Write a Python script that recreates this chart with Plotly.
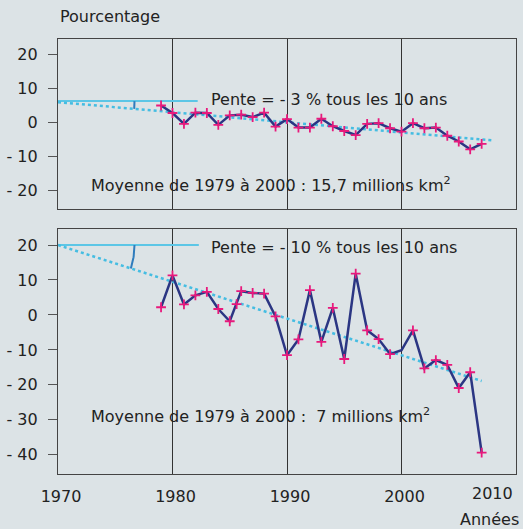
import numpy as np
import plotly.graph_objects as go

# ---------------- data ----------------
years_top = list(range(1979, 2008))
values_top = [4.9, 2.7, -0.5, 2.8, 2.7, -0.8, 2.0, 2.2, 1.5, 2.8,
              -1.3, 0.9, -1.6, -1.6, 1.0, -1.2, -2.6, -3.8, -0.5, -0.3,
              -1.8, -2.8, -0.3, -1.8, -1.6, -4.0, -5.7, -8.0, -6.4]

years_bot = [1979, 1980, 1981, 1982, 1983, 1984, 1985, 1985.6, 1986, 1987,
             1988, 1989, 1990, 1991, 1992, 1993, 1994, 1995, 1996, 1997,
             1998, 1999, 2000, 2001, 2002, 2003, 2004, 2005, 2006, 2007]
values_bot = [2.2, 11.3, 3.0, 5.6, 6.6, 1.7, -1.8, 3.1, 6.8, 6.3,
              6.1, -0.4, -11.5, -7.0, 7.1, -7.7, 2.0, -12.6, 11.8, -4.4,
              -6.9, -11.2, -10.1, -4.4, -15.3, -12.9, -14.3, -20.9, -16.4, -39.4]
no_marker_bot = [2000]

trend_top_x = [1970, 2008]
trend_top_y = [5.9, -5.4]
trend_bot_x = [1970, 2007]
trend_bot_y = [20, -18.9]

ref_top_x = [1970, 1982.2]
ref_top_y = [6.2, 6.2]
ref_bot_x = [1970, 1982.3]
ref_bot_y = [20, 20]

x_ticks = [1970, 1980, 1990, 2000, 2010]
x_labels = ["1970", "1980", "1990", "2000", "2010"]
y_ticks_top = [20, 10, 0, -10, -20]
y_ticks_bot = [20, 10, 0, -10, -20, -30, -40]

def lab(v):
    return "- %d" % (-v) if v < 0 else "%d" % v

# ---------------- style ----------------
BG = "#dce3e6"
NAVY = "#2b3683"
PINK = "#e8197c"
CYAN_DOT = "#45bde2"
CYAN = "#5cc6e6"
ARC = "#2f7cbd"
TXT = "#222222"
FONT = "DejaVu Sans"

W, H = 523, 529
ML, MR, MT, MB = 56, 6, 39, 55
XR = [1970, 2010]
YR_TOP = [-25.5, 24.5]
YR_BOT = [-45.5, 24.5]
plot_h = H - MT - MB
plot_w = W - ML - MR
dom_top = [(H - MB - 208.7) / plot_h, 1.0]
dom_bot = [0.0, (H - MB - 229.3) / plot_h]

fig = go.Figure()

def add_panel(xs, ys, tx, ty, rx, ry, xa, ya, dom, yr, skip=()):
    fig.add_trace(go.Scatter(x=rx, y=ry, mode="lines", xaxis=xa, yaxis=ya,
                             line=dict(color=CYAN, width=2), hoverinfo="skip"))
    fig.add_trace(go.Scatter(x=tx, y=ty, mode="lines", xaxis=xa, yaxis=ya,
                             line=dict(color=CYAN_DOT, width=2.5, dash="dot"), hoverinfo="skip"))
    # angle arc derived from the axis scales
    pxu = plot_w / (XR[1] - XR[0])
    pyu = (dom[1] - dom[0]) * plot_h / (yr[1] - yr[0])
    slope_px = (ty[1] - ty[0]) / (tx[1] - tx[0]) * pyu / pxu
    a1 = np.arctan(-slope_px)
    r = 77.0
    a0 = np.arcsin(np.clip((ry[0] - ty[0]) * pyu / r, -1, 1))
    ang = np.linspace(-a0, a1, 30)
    ax_ = tx[0] + r * np.cos(ang) / pxu
    ay_ = ty[0] - r * np.sin(ang) / pyu
    fig.add_trace(go.Scatter(x=ax_, y=ay_, mode="lines", xaxis=xa, yaxis=ya,
                             line=dict(color=ARC, width=2), hoverinfo="skip"))
    fig.add_trace(go.Scatter(x=xs, y=ys, mode="lines", xaxis=xa, yaxis=ya,
                             line=dict(color=NAVY, width=2.5), hoverinfo="skip"))
    mx = [x for x in xs if x not in skip]
    my = [y for x, y in zip(xs, ys) if x not in skip]
    fig.add_trace(go.Scatter(x=mx, y=my, mode="markers", xaxis=xa, yaxis=ya,
                             marker=dict(symbol="cross-thin", size=7,
                                         line=dict(color=PINK, width=1.8)),
                             hoverinfo="skip"))

add_panel(years_top, values_top, trend_top_x, trend_top_y, ref_top_x, ref_top_y,
          "x2", "y2", dom_top, YR_TOP)
add_panel(years_bot, values_bot, trend_bot_x, trend_bot_y, ref_bot_x, ref_bot_y,
          "x", "y", dom_bot, YR_BOT, skip=no_marker_bot)

axis_common = dict(showline=True, mirror=True, linecolor="#444444", linewidth=1.3,
                   zeroline=False)
fig.update_layout(
    width=W, height=H,
    margin=dict(l=ML, r=MR, t=MT, b=MB, pad=0),
    paper_bgcolor=BG, plot_bgcolor=BG,
    showlegend=False,
    font=dict(family=FONT, size=16, color=TXT),
    xaxis=dict(range=XR, domain=[0, 1], anchor="y", tickvals=x_ticks[:-1],
               ticktext=x_labels[:-1], ticks="", showgrid=True,
               gridcolor="#333333", gridwidth=1, ticklabelstandoff=8, ticklabelshift=3,
               tickfont=dict(size=16, color=TXT), **axis_common),
    yaxis=dict(range=YR_BOT, domain=dom_bot, anchor="x", tickvals=y_ticks_bot,
               ticktext=[lab(v) for v in y_ticks_bot], ticks="outside", ticklen=9,
               tickcolor="#555555", tickwidth=1.3, showgrid=False, ticklabelstandoff=7,
               tickfont=dict(size=16, color=TXT), **axis_common),
    xaxis2=dict(range=XR, domain=[0, 1], anchor="y2", tickvals=x_ticks,
                showticklabels=False, ticks="", showgrid=True,
                gridcolor="#333333", gridwidth=1, **axis_common),
    yaxis2=dict(range=YR_TOP, domain=dom_top, anchor="x2", tickvals=y_ticks_top,
                ticktext=[lab(v) for v in y_ticks_top], ticks="outside", ticklen=9,
                tickcolor="#555555", tickwidth=1.3, showgrid=False, ticklabelstandoff=7,
                tickfont=dict(size=16, color=TXT), **axis_common),
)

ann = [
    dict(text="Pourcentage", xref="paper", yref="paper", x=0, y=(H - MB - 17) / plot_h,
         xanchor="left", yanchor="middle"),
    dict(text="Années", xref="paper", yref="paper", x=(522 - ML) / plot_w,
         y=(H - MB - 519) / plot_h, xanchor="right", yanchor="middle"),
    # last x tick label, kept inside the page edge
    dict(text=x_labels[-1], xref="x", yref="paper", x=x_ticks[-1], xshift=-1,
         y=(H - MB - 493) / plot_h, xanchor="right", yanchor="middle"),
    dict(text="Pente = - 3 % tous les 10 ans", xref="x2", yref="y2", x=1983.2, y=6.6,
         xanchor="left", yanchor="middle"),
    dict(text="Moyenne de 1979 à 2000 : 15,7 millions km<sup>2</sup>", xref="x2", yref="y2",
         x=1972.7, y=-18.5, xanchor="left", yanchor="middle"),
    dict(text="Pente = - 10 % tous les 10 ans", xref="x", yref="y", x=1983.2, y=19.4,
         xanchor="left", yanchor="middle"),
    dict(text="Moyenne de 1979 à 2000 :  7 millions km<sup>2</sup>", xref="x", yref="y",
         x=1972.7, y=-28.9, xanchor="left", yanchor="middle"),
]
for a in ann:
    a.update(showarrow=False, font=dict(family=FONT, size=16, color=TXT))
fig.update_layout(annotations=ann)

fig.write_html(
    "out.html",
    config={"displayModeBar": False},
    post_script="document.body.style.margin='0';document.body.style.background='%s';" % BG,
)
